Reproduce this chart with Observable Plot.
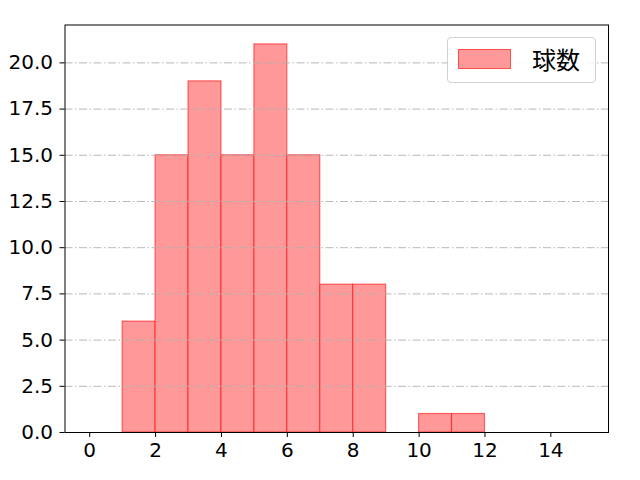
<!DOCTYPE html>
<html><head><meta charset="utf-8">
<script src="https://cdn.jsdelivr.net/npm/d3@7"></script>
<script src="https://cdn.jsdelivr.net/npm/@observablehq/plot@0.6"></script>
<style>
html,body{margin:0;padding:0;background:#fff;}
#chart{position:relative;width:640px;height:480px;}
</style>
</head><body><div id="chart"></div>
<script>
const binStarts = [1,2,3,4,5,6,7,8,9,10,11];
const counts = [6,15,19,15,21,15,8,8,0,1,1];
const xTicks = [0,2,4,6,8,10,12,14];
const yTicks = [0,2.5,5,7.5,10,12.5,15,17.5,20];
const seriesName = "球数";

const bins = binStarts.map((s,i)=>({x1:s, x2:s+1, y:counts[i]})).filter(d=>d.y>0);
const font = "'DejaVu Sans', 'Noto Sans CJK JP', sans-serif";

const plot = Plot.plot({
  width: 640, height: 480,
  marginLeft: 64.5, marginRight: 32, marginTop: 24.5, marginBottom: 48,
  style: {fontFamily: font, fontSize: "20px", color: "#000", background: "#fff"},
  x: {domain: [-0.75, 15.75], label: null},
  y: {domain: [0, 22.05], label: null},
  marks: [
    Plot.rectY(bins, {x1:"x1", x2:"x2", y:"y", fill:"#ff9999", stroke:"#ff0000", strokeOpacity:0.55, strokeWidth:1.2}),
    Plot.ruleY(yTicks.filter(t=>t>0), {stroke:"#b0b0b0", strokeWidth:0.9, strokeDasharray:"8,2.5,1.5,2.5"}),
    Plot.frame({stroke:"#000", strokeWidth:1}),
    Plot.axisX({ticks: xTicks, tickFormat: d=>String(d), tickSize: 5, tickPadding: 5, fontSize: 20, label: null}),
    Plot.axisY({ticks: yTicks, tickFormat: d=>d.toFixed(1), tickSize: 5, tickPadding: 7, fontSize: 20, label: null})
  ]
});
document.getElementById("chart").appendChild(plot);

const leg = document.createElement("div");
leg.style.cssText = "position:absolute;left:447px;top:37px;width:149px;height:46px;box-sizing:border-box;border:1px solid #d0d0d0;border-radius:4px;background:rgba(255,255,255,0.85);font-family:'Noto Sans CJK JP',sans-serif;font-size:24px;line-height:1;";
const sw = document.createElement("div");
sw.style.cssText = "position:absolute;left:10px;top:11px;width:53px;height:20px;background:#ff9999;border:1px solid rgba(255,0,0,0.5);box-sizing:border-box;";
const lab = document.createElement("span");
lab.textContent = seriesName;
lab.style.cssText = "position:absolute;left:84px;top:9px;";
leg.appendChild(sw); leg.appendChild(lab);
document.getElementById("chart").appendChild(leg);
</script></body></html>
